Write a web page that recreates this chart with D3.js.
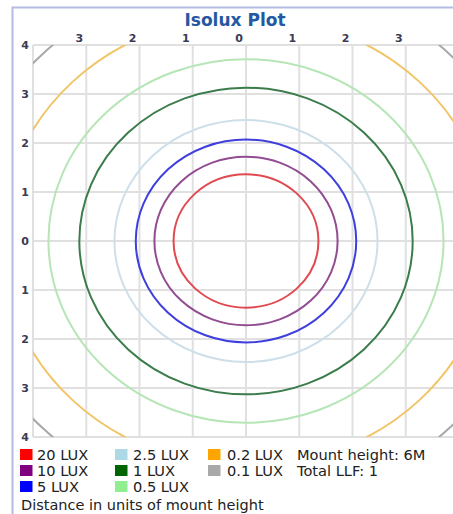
<!DOCTYPE html>
<html><head><meta charset="utf-8">
<script src="https://cdn.jsdelivr.net/npm/d3@7"></script>
<style>body{margin:0;background:#fff;}svg{display:block;font-family:"DejaVu Sans",Verdana,sans-serif;}</style>
</head><body>
<svg id="c" width="453" height="514"></svg>
<script>
const levels = ["20 LUX","10 LUX","5 LUX","2.5 LUX","1 LUX","0.5 LUX","0.2 LUX","0.1 LUX"];
const radii = [1.36, 1.72, 2.07, 2.47, 3.13, 3.71, 4.6, 5.4];
const lineColors = ["#e04a50","#924c92","#3f3fde","#cddfea","#3b7c4b","#b6e5b6","#f1c466","#a8a8a8"];
const swatchColors = ["#ff0000","#800080","#0000ff","#add8e6","#006400","#90ee90","#ffa500","#a9a9a9"];
const topTicks = [-3,-2,-1,0,1,2,3];
const leftTicks = [4,3,2,1,0,-1,-2,-3,-4];
const gridVals = [-4,-3,-2,-1,0,1,2,3,4];
const infoText = ["Mount height: 6M","Total LLF: 1"];

const svg = d3.select("#c");
const x = d3.scaleLinear().domain([-4,4]).range([33,459]);
const y = d3.scaleLinear().domain([-4,4]).range([437,45]);

// frame
svg.append("path").attr("d","M12.5,514 L12.5,7.5 L453,7.5").attr("fill","none").attr("stroke","#b4bce4").attr("stroke-width",2);

svg.append("text").attr("x",235).attr("y",26).attr("text-anchor","middle")
  .attr("font-size",17).attr("font-weight","bold").attr("fill","#2458a0").text("Isolux Plot");

svg.append("clipPath").attr("id","pc").append("rect")
  .attr("x",x(-4)).attr("y",y(4)).attr("width",x(4)-x(-4)).attr("height",y(-4)-y(4));

const g = svg.append("g");
g.selectAll("line.v").data(gridVals).join("line").attr("class","v")
  .attr("x1",d=>x(d)).attr("x2",d=>x(d)).attr("y1",y(4)).attr("y2",y(-4))
  .attr("stroke","#e0e0e0").attr("stroke-width",2);
g.selectAll("line.h").data(gridVals).join("line").attr("class","h")
  .attr("y1",d=>y(d)).attr("y2",d=>y(d)).attr("x1",x(-4)).attr("x2",x(4))
  .attr("stroke","#e0e0e0").attr("stroke-width",2);

const cg = svg.append("g").attr("clip-path","url(#pc)");
cg.selectAll("ellipse").data(radii).join("ellipse")
  .attr("cx",x(0)).attr("cy",y(0))
  .attr("rx",d=>x(d)-x(0)).attr("ry",d=>y(0)-y(d))
  .attr("fill","none").attr("stroke",(d,i)=>lineColors[i]).attr("stroke-width",2);

svg.selectAll("text.tt").data(topTicks).join("text").attr("class","tt")
  .attr("x",d=>x(d)-3).attr("y",42).attr("text-anchor","end")
  .attr("font-size",11).attr("font-weight","bold").attr("fill","#3a3a55").text(d=>Math.abs(d));
svg.selectAll("text.lt").data(leftTicks).join("text").attr("class","lt")
  .attr("x",29).attr("y",d=>y(d)+4).attr("text-anchor","end")
  .attr("font-size",11).attr("font-weight","bold").attr("fill","#3a3a55").text(d=>Math.abs(d));

// legend
const swX = [20,115,208];
const txX = [37,133,227];
const rowY = [459.5,475.5,491.5];
const lg = svg.append("g");
levels.forEach((l,i)=>{
  const c = Math.floor(i/3), r = i%3;
  lg.append("rect").attr("x",swX[c]).attr("y",rowY[r]-10.5).attr("width",12.5).attr("height",11).attr("fill",swatchColors[i]);
  lg.append("text").attr("x",txX[c]).attr("y",rowY[r]).attr("font-size",14.6).attr("fill","#222").text(l);
});
infoText.forEach((t,i)=>{
  lg.append("text").attr("x",297).attr("y",rowY[i]).attr("font-size",14.6).attr("fill","#222").text(t);
});
lg.append("text").attr("x",21).attr("y",509.5).attr("font-size",14.5).attr("fill","#222").text("Distance in units of mount height");
</script>
</body></html>
